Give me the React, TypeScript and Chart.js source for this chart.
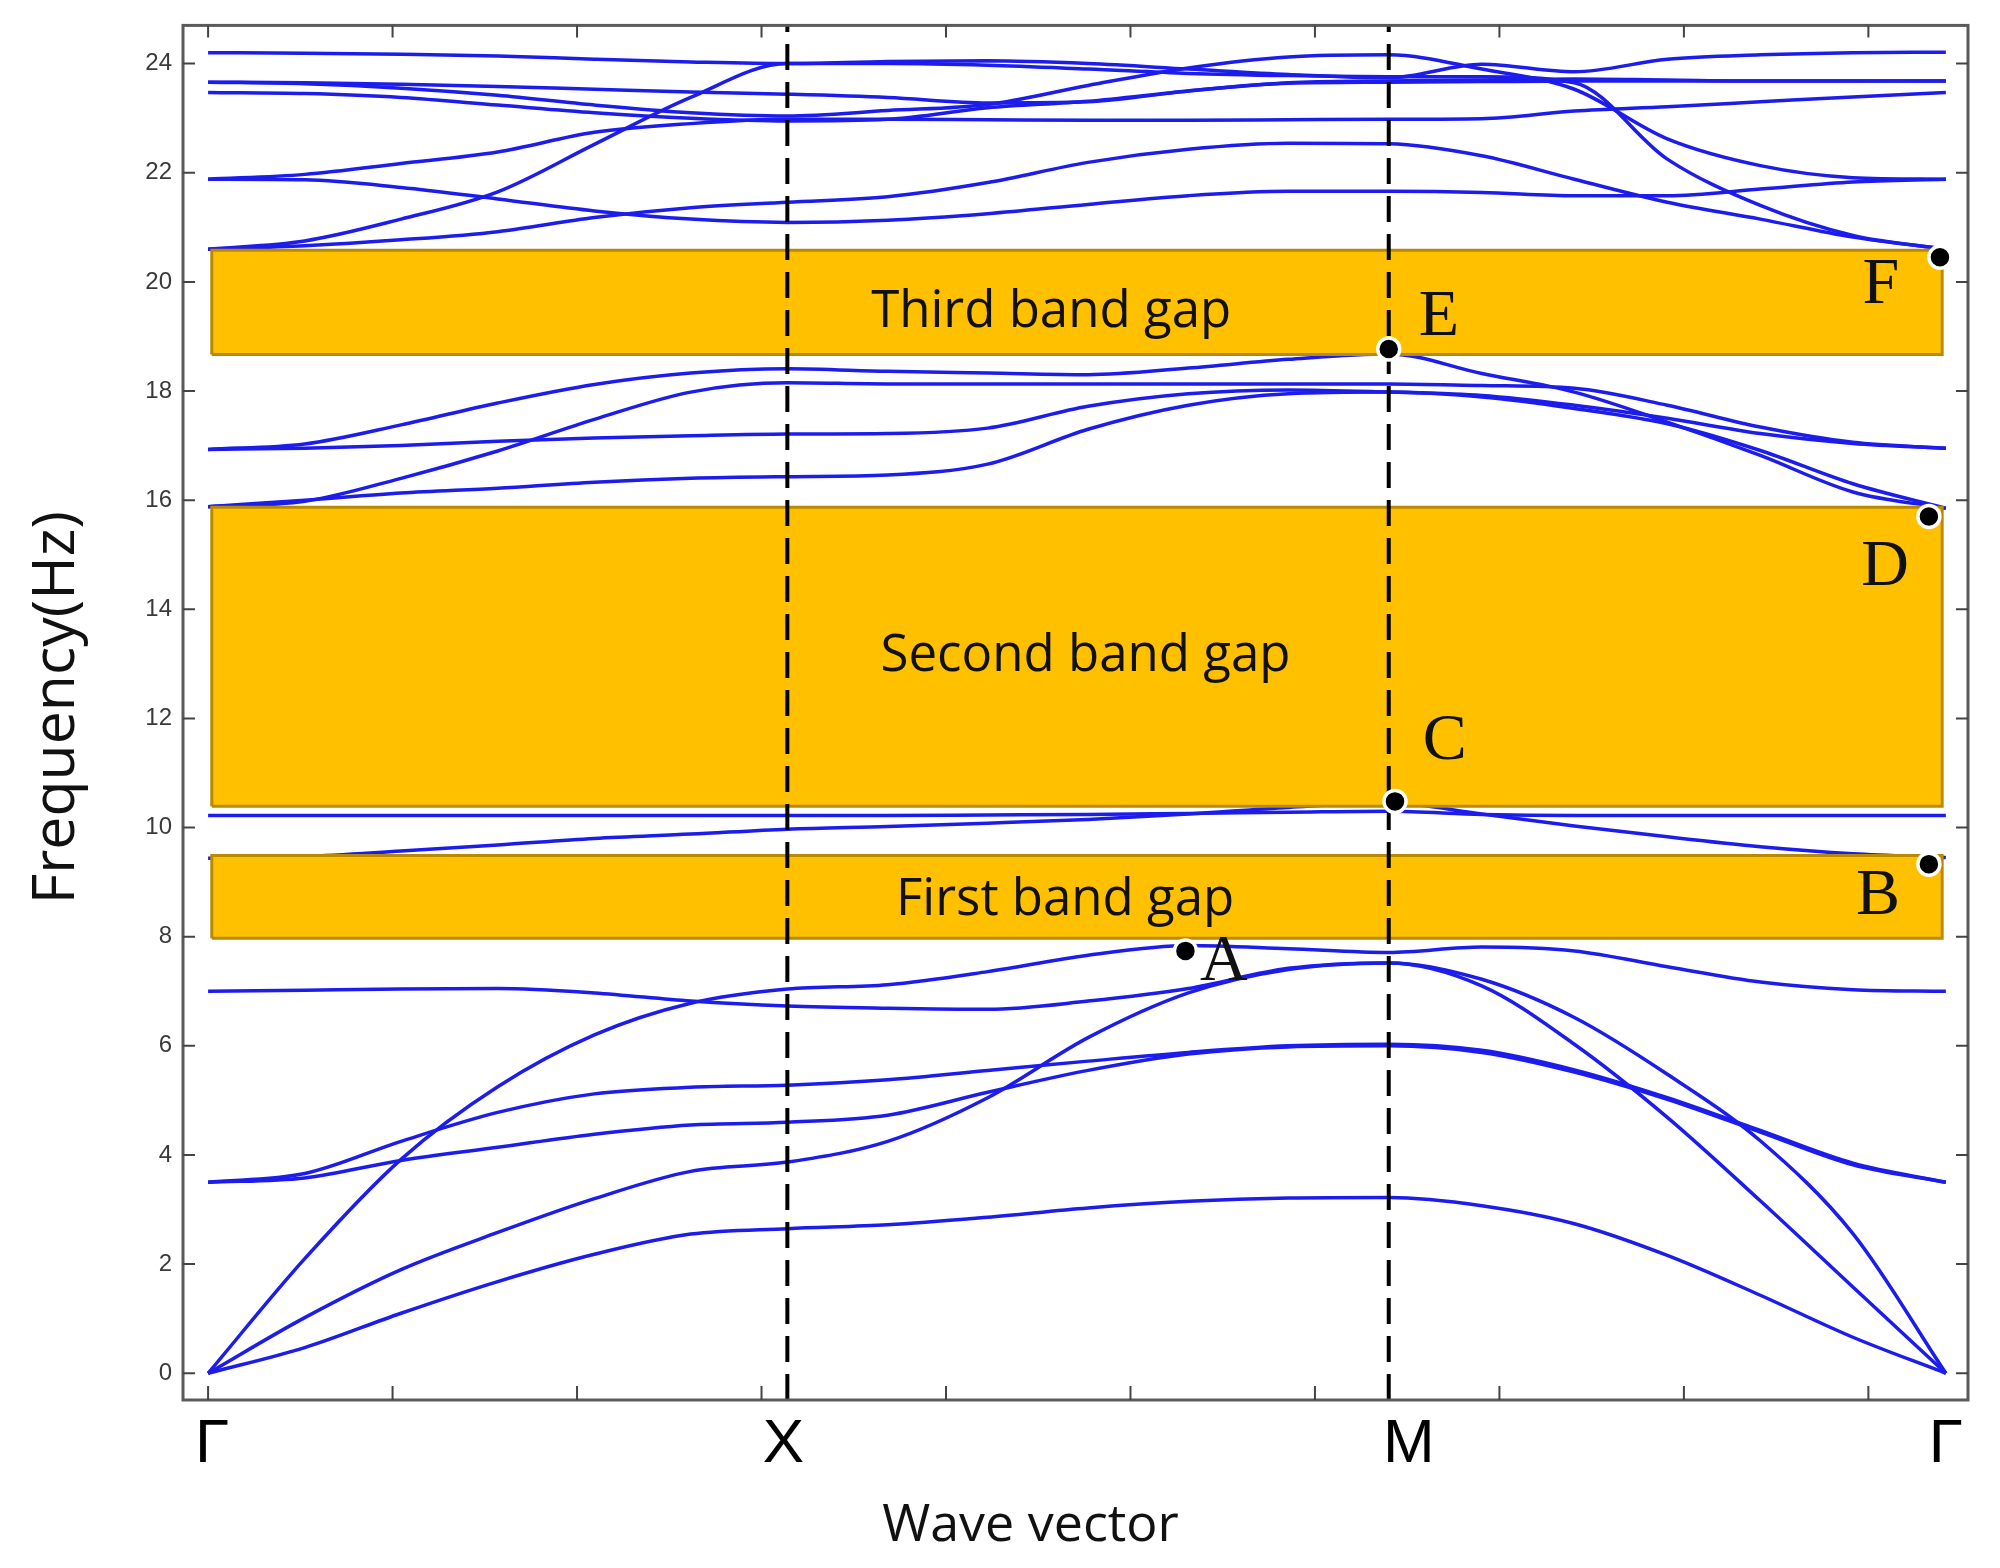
import { useEffect, useRef } from "react";
import { Chart, registerables } from "chart.js";

Chart.register(...registerables);

// wave-vector samples along Γ → X → M → Γ (six steps per segment)
const K = [
  0, 0.262, 0.523, 0.785, 1.047, 1.308, 1.57,
  1.842, 2.113, 2.385, 2.657, 2.928, 3.2,
  3.452, 3.703, 3.955, 4.207, 4.458, 4.71,
];
const SYM_K = [0, 1.57, 3.2, 4.71];
const SYM_LABELS = ["Γ", "X", "M", "Γ"];
const X_MINOR_TICKS = [0, 0.5, 1, 1.5, 2, 2.5, 3, 3.5, 4, 4.5];
const Y_TICKS = [0, 2, 4, 6, 8, 10, 12, 14, 16, 18, 20, 22, 24];

// frequency of each band (Hz) at the K samples
const band01 = [0, 0.47, 1.1, 1.68, 2.18, 2.55, 2.65, 2.72, 2.86, 3.03, 3.15, 3.21, 3.22, 3.07, 2.74, 2.16, 1.43, 0.66, 0];
const band02 = [0, 1.02, 1.9, 2.58, 3.2, 3.7, 3.87, 4.25, 5.05, 6.15, 6.97, 7.4, 7.52, 7.1, 6.03, 4.69, 3.16, 1.58, 0];
const band03 = [0, 2.1, 3.92, 5.25, 6.2, 6.78, 7.04, 7.12, 7.36, 7.66, 7.84, 7.78, 7.71, 7.81, 7.74, 7.45, 7.17, 7.03, 7.0];
const band04 = [3.5, 3.58, 3.9, 4.14, 4.38, 4.55, 4.6, 4.73, 5.15, 5.55, 5.85, 5.98, 6.0, 5.88, 5.52, 5.02, 4.42, 3.82, 3.5];
const band05 = [3.5, 3.66, 4.25, 4.78, 5.12, 5.24, 5.28, 5.38, 5.55, 5.72, 5.88, 6.0, 6.03, 5.92, 5.56, 5.05, 4.45, 3.85, 3.5];
const band06 = [7.0, 7.02, 7.04, 7.05, 6.97, 6.82, 6.73, 6.69, 6.67, 6.82, 7.05, 7.42, 7.52, 7.22, 6.52, 5.48, 4.26, 2.56, 0];
const band07 = [9.44, 9.47, 9.57, 9.68, 9.8, 9.88, 9.97, 10.02, 10.08, 10.15, 10.25, 10.37, 10.45, 10.25, 10.03, 9.83, 9.65, 9.52, 9.45];
const band08 = [10.22, 10.22, 10.22, 10.22, 10.22, 10.22, 10.22, 10.22, 10.23, 10.24, 10.26, 10.28, 10.3, 10.24, 10.22, 10.22, 10.22, 10.22, 10.22];
const band09 = [15.88, 16.0, 16.13, 16.22, 16.33, 16.4, 16.43, 16.46, 16.66, 17.3, 17.74, 17.95, 17.98, 17.89, 17.68, 17.4, 16.91, 16.3, 15.85];
const band10 = [15.88, 15.98, 16.4, 16.9, 17.48, 17.98, 18.15, 18.13, 18.13, 18.13, 18.13, 18.13, 18.13, 18.1, 18.05, 17.74, 17.34, 17.06, 16.95];
const band11 = [16.93, 16.95, 17.0, 17.08, 17.14, 17.18, 17.21, 17.22, 17.32, 17.72, 17.95, 18.02, 17.98, 17.92, 17.74, 17.5, 17.22, 17.04, 16.95];
const band12 = [16.93, 17.03, 17.38, 17.78, 18.12, 18.33, 18.41, 18.36, 18.33, 18.3, 18.42, 18.58, 18.68, 18.32, 17.98, 17.43, 16.82, 16.15, 15.85];
const band13 = [24.2, 24.19, 24.17, 24.14, 24.08, 24.03, 24.0, 24.04, 24.05, 24.0, 23.9, 23.8, 23.74, 23.99, 23.85, 24.08, 24.16, 24.2, 24.21];
const band14 = [20.6, 20.75, 21.15, 21.65, 22.52, 23.38, 24.0, 24.0, 23.97, 23.9, 23.82, 23.78, 23.76, 23.76, 23.65, 22.25, 21.4, 20.85, 20.6];
const band15 = [20.6, 20.66, 20.77, 20.92, 21.18, 21.36, 21.46, 21.56, 21.82, 22.19, 22.43, 22.54, 22.53, 22.31, 21.88, 21.46, 21.15, 20.82, 20.6];
const band16 = [21.88, 21.87, 21.73, 21.52, 21.3, 21.15, 21.09, 21.13, 21.25, 21.42, 21.58, 21.66, 21.66, 21.64, 21.58, 21.58, 21.7, 21.83, 21.88];
const band17 = [21.88, 21.97, 22.17, 22.38, 22.74, 22.9, 22.98, 22.98, 22.97, 22.96, 22.96, 22.97, 22.98, 22.99, 23.13, 23.21, 23.3, 23.39, 23.47];
const band18 = [23.66, 23.65, 23.62, 23.58, 23.53, 23.48, 23.44, 23.38, 23.28, 23.3, 23.5, 23.64, 23.66, 23.67, 23.68, 23.68, 23.68, 23.68, 23.68];
const band19 = [23.66, 23.63, 23.55, 23.42, 23.24, 23.1, 23.04, 23.14, 23.25, 23.6, 23.92, 24.12, 24.16, 23.9, 23.53, 22.62, 22.13, 21.91, 21.88];
const band20 = [23.47, 23.45, 23.38, 23.24, 23.1, 23.0, 22.95, 22.98, 23.19, 23.31, 23.5, 23.65, 23.68, 23.7, 23.72, 23.7, 23.68, 23.68, 23.68];

const BANDS = [
  band01, band02, band03, band04, band05, band06, band07, band08, band09, band10,
  band11, band12, band13, band14, band15, band16, band17, band18, band19, band20,
];

// band gaps (Hz)
const GAP_NAMES = ["First band gap", "Second band gap", "Third band gap"];
const GAP_LOW = [7.97, 10.39, 18.67];
const GAP_HIGH = [9.49, 15.87, 20.58];
const GAP_K = [0.01, 4.7];
const GAP_LABEL_K = [2.323, 2.378, 2.285];
const GAP_LABEL_F = [8.4, 12.87, 19.17];

// marked band edges
const POINT_NAMES = ["A", "B", "C", "D", "E", "F"];
const POINT_K = [2.649, 4.664, 3.217, 4.664, 3.2, 4.694];
const POINT_F = [7.74, 9.33, 10.48, 15.7, 18.77, 20.45];
const LETTER_K = [2.753, 4.526, 3.352, 4.545, 3.336, 4.534];
const LETTER_F = [7.52, 8.73, 11.57, 14.77, 19.35, 19.93];

const Y_MIN = -0.49;
const Y_MAX = 24.7;

const BLUE = "#1c1cec";

const decorations = {
  id: "decorations",
  afterDatasetsDraw(chart: Chart) {
    const { ctx, chartArea: a } = chart;
    const xs = chart.scales.x;
    const ys = chart.scales.y;
    ctx.save();

    // frame
    ctx.strokeStyle = "#5a5a5a";
    ctx.lineWidth = 3;
    ctx.strokeRect(a.left, a.top, a.right - a.left, a.bottom - a.top);

    // inward ticks on all four sides
    ctx.strokeStyle = "#444";
    ctx.lineWidth = 2;
    ctx.beginPath();
    for (const k of X_MINOR_TICKS) {
      const px = xs.getPixelForValue(k);
      ctx.moveTo(px, a.bottom);
      ctx.lineTo(px, a.bottom - 14);
      ctx.moveTo(px, a.top);
      ctx.lineTo(px, a.top + 12);
    }
    for (const f of Y_TICKS) {
      const py = ys.getPixelForValue(f);
      ctx.moveTo(a.left, py);
      ctx.lineTo(a.left + 12, py);
      ctx.moveTo(a.right, py);
      ctx.lineTo(a.right - 12, py);
    }
    ctx.stroke();

    // gap names
    ctx.fillStyle = "#111";
    ctx.font = "51px 'Open Sans'";
    ctx.textAlign = "center";
    ctx.textBaseline = "alphabetic";
    GAP_NAMES.forEach((name, i) => {
      ctx.fillText(name, xs.getPixelForValue(GAP_LABEL_K[i]), ys.getPixelForValue(GAP_LABEL_F[i]));
    });

    // point letters
    ctx.font = "66px 'Liberation Serif'";
    ctx.textBaseline = "middle";
    POINT_NAMES.forEach((name, i) => {
      ctx.fillText(name, xs.getPixelForValue(LETTER_K[i]), ys.getPixelForValue(LETTER_F[i]));
    });

    // symmetry point labels
    ctx.fillStyle = "#000";
    ctx.font = "62px 'Liberation Sans'";
    const nudge = [4, -4, 20, 0];
    SYM_LABELS.forEach((name, i) => {
      ctx.fillText(name, xs.getPixelForValue(SYM_K[i]) + nudge[i], a.bottom + 45);
    });

    // axis titles
    ctx.fillStyle = "#111";
    ctx.font = "52px 'Open Sans'";
    ctx.textBaseline = "alphabetic";
    ctx.fillText("Wave vector", (a.left + a.right) / 2 - 45, a.bottom + 141);
    ctx.translate(57, (a.top + a.bottom) / 2 - 5);
    ctx.rotate(-Math.PI / 2);
    ctx.textBaseline = "middle";
    ctx.font = "59px 'Open Sans'";
    ctx.fillText("Frequency(Hz)", 0, 0);

    ctx.restore();
  },
};

export default function App() {
  const canvasRef = useRef<HTMLCanvasElement | null>(null);

  useEffect(() => {
    if (!canvasRef.current) return;

    const bandSets = BANDS.map((vals) => ({
      type: "line" as const,
      data: K.map((k, i) => ({ x: k, y: vals[i] })),
      borderColor: BLUE,
      borderWidth: 3.5,
      pointRadius: 0,
      fill: false,
      cubicInterpolationMode: "monotone" as const,
      order: 4,
    }));

    const gapSets = GAP_LOW.map((lo, i) => {
      const hi = GAP_HIGH[i];
      return {
        type: "line" as const,
        data: [
          { x: GAP_K[0], y: lo },
          { x: GAP_K[1], y: lo },
          { x: GAP_K[1], y: hi },
          { x: GAP_K[0], y: hi },
          { x: GAP_K[0], y: lo },
        ],
        borderColor: "#b98a00",
        backgroundColor: "#ffc000",
        borderWidth: 3,
        pointRadius: 0,
        tension: 0,
        fill: "shape" as const,
        order: 3,
      };
    });

    const dashSets = SYM_K.slice(1, 3).map((k) => ({
      type: "line" as const,
      data: [
        { x: k, y: Y_MIN },
        { x: k, y: Y_MAX },
      ],
      borderColor: "#000",
      borderWidth: 4,
      borderDash: [26, 12],
      pointRadius: 0,
      tension: 0,
      fill: false,
      order: 2,
    }));

    const dotSet = {
      type: "line" as const,
      data: POINT_K.map((k, i) => ({ x: k, y: POINT_F[i] })),
      showLine: false,
      pointRadius: 11,
      pointBackgroundColor: "#000",
      pointBorderColor: "#fff",
      pointBorderWidth: 3.5,
      order: 1,
    };

    const chart = new Chart(canvasRef.current, {
      type: "line",
      data: { datasets: [...bandSets, ...gapSets, ...dashSets, dotSet] as any },
      options: {
        animation: false,
        responsive: false,
        devicePixelRatio: 1,
        layout: { padding: { top: 23, right: 32, bottom: 168, left: 0 } },
        plugins: { legend: { display: false }, tooltip: { enabled: false } },
        scales: {
          x: {
            type: "linear",
            display: false,
            min: -0.068,
            max: 4.77,
          },
          y: {
            type: "linear",
            min: Y_MIN,
            max: Y_MAX,
            afterBuildTicks: (axis: any) => {
              axis.ticks = Y_TICKS.map((v) => ({ value: v }));
            },
            afterFit: (axis: any) => {
              axis.width = 183;
            },
            grid: { display: false, drawTicks: false },
            border: { display: false },
            ticks: {
              padding: 11,
              color: "#3a3a3a",
              font: { family: "'Liberation Sans'", size: 24 },
            },
          },
        },
      },
      plugins: [decorations],
    });

    return () => chart.destroy();
  }, []);

  return (
    <div style={{ position: "absolute", left: 0, top: 0, width: 2000, height: 1568, background: "#fff" }}>
      <canvas ref={canvasRef} width={2000} height={1568} style={{ display: "block" }} />
    </div>
  );
}
